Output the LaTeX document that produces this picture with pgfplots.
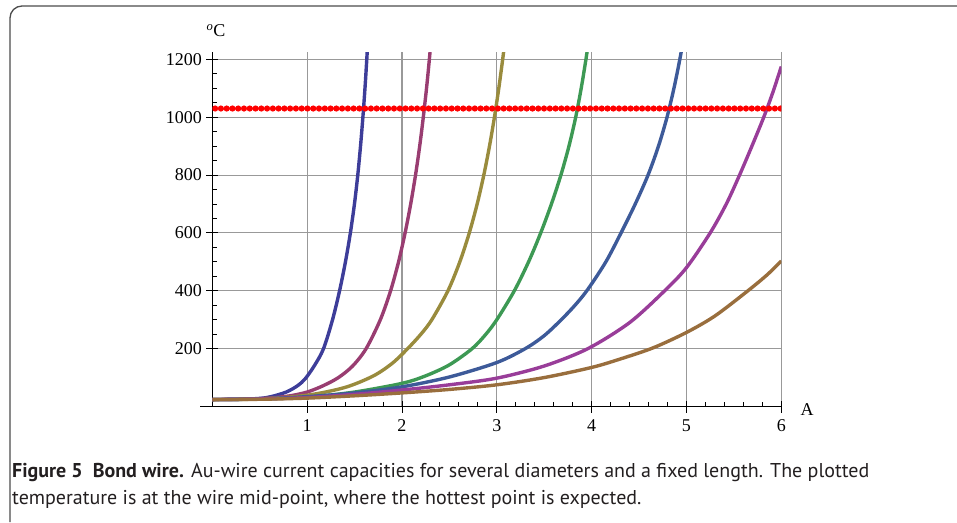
\documentclass[border=0pt]{standalone}
\usepackage{pgfplots}
\pgfplotsset{compat=1.18}
\usepackage{fontspec}
\setmainfont{Liberation Serif}
\newfontfamily\capfont{PT Sans}
% Mathematica default plot colours
\definecolor{mA}{rgb}{0.24,0.24,0.6}
\definecolor{mB}{rgb}{0.6,0.24,0.442}
\definecolor{mC}{rgb}{0.6,0.547,0.24}
\definecolor{mD}{rgb}{0.24,0.6,0.33}
\definecolor{mE}{rgb}{0.24,0.353,0.6}
\definecolor{mF}{rgb}{0.6,0.24,0.6}
\definecolor{mG}{rgb}{0.6,0.431,0.24}
\definecolor{capgrey}{HTML}{231F20}

\begin{document}
\begin{tikzpicture}
\begin{axis}[
  name=ax,
  scale only axis,width=569pt,height=354.4pt,
  xmin=0,xmax=6,ymin=0,ymax=1225,
  axis lines=left,axis line style={-,line width=1.1pt,black},
  font=\fontsize{18}{20}\selectfont,
  /pgf/number format/assume math mode=true,
  /pgf/number format/1000 sep={},
  xtick={1,2,3,4,5,6},ytick={200,400,600,800,1000,1200},
  minor x tick num=4,minor y tick num=3,
  tick align=center,major tick length=12pt,minor tick length=5pt,
  tick style={black,line width=0.9pt},
  minor x tick style={yshift=2.5pt},minor y tick style={xshift=2.5pt},
  grid=major,grid style={black!40,line width=1.1pt},
  yticklabel style={xshift=-1pt},xticklabel style={yshift=-4pt},
  clip=true,
  every axis plot/.append style={line width=3.4pt,smooth},
]
\addplot[mA] coordinates {
 (0,24) (0.3,25) (0.5,28) (0.62,34) (0.78,50) (0.9,72) (0.98,96) (1.08,143)
 (1.173,200) (1.268,300) (1.342,400) (1.404,500) (1.456,600) (1.499,700)
 (1.534,800) (1.563,900) (1.588,1000) (1.610,1100) (1.629,1200) (1.646,1300)};
\addplot[mB] coordinates {
 (0,24) (0.5,27) (0.8,36) (1.0,50) (1.17,72) (1.33,100) (1.48,140) (1.622,200)
 (1.772,300) (1.880,400) (1.964,500) (2.033,600) (2.092,700) (2.143,800)
 (2.187,900) (2.225,1000) (2.259,1100) (2.289,1200) (2.316,1300)};
\addplot[mC] coordinates {
 (0,24) (0.5,26) (1.0,39) (1.4,66) (1.7,106) (1.9,150) (2.06,200) (2.2,250)
 (2.315,300) (2.485,400) (2.61,500) (2.71,600) (2.793,700) (2.863,800)
 (2.923,900) (2.975,1000) (3.021,1100) (3.062,1200) (3.10,1300)};
\addplot[mD] coordinates {
 (0,24) (0.5,26) (1.0,32) (1.5,50) (2.0,80) (2.25,106) (2.5,144) (2.74,200)
 (2.88,248) (3.0,300) (3.185,400) (3.335,500) (3.463,600) (3.576,700)
 (3.676,800) (3.761,900) (3.832,1000) (3.89,1100) (3.94,1200) (3.985,1300)};
\addplot[mE] coordinates {
 (0,24) (0.5,26) (1.0,34) (1.5,47) (2.0,68) (2.5,102) (3.0,152) (3.3,200)
 (3.5,245) (3.68,300) (3.83,352) (3.96,405) (4.15,500) (4.31,600) (4.46,700)
 (4.595,800) (4.705,900) (4.795,1000) (4.868,1100) (4.93,1200) (4.985,1300)};
\addplot[mF] coordinates {
 (0,24) (0.5,26) (1.0,31) (1.5,42) (2.0,57) (2.5,75) (3.0,98) (3.5,140)
 (3.96,200) (4.4,290) (4.77,400) (5.0,480) (5.25,600) (5.42,700) (5.56,800)
 (5.69,900) (5.815,1000) (5.91,1085) (6.0,1175)};
\addplot[mG] coordinates {
 (0,24) (0.5,25) (1.0,29) (1.5,37) (2.0,47) (2.5,59) (3.0,75) (3.5,100)
 (4.0,135) (4.3,164) (4.65,203) (5.0,256) (5.3,313) (5.64,398) (5.85,455) (6.0,503)};
% melting limit, drawn as a row of dots
\addplot[red,line width=6.2pt,line cap=round,sharp plot,dash pattern=on 0pt off 5.77pt] coordinates {
 (0.03,1030) (6,1030)};
\end{axis}

% everything else is placed relative to the axis origin (1pt = 1px)
\begin{scope}[shift={(ax.south west)},x=1pt,y=1pt]
% short stub of the x axis left of the origin
\draw[line width=1.1pt] (-12.3,0) -- (0,0);
% axis names
\node[font=\fontsize{18}{20}\selectfont,anchor=base] at (3.7,369.5) {\textsuperscript{\itshape o}C};
\node[font=\fontsize{18}{20}\selectfont,anchor=base west] at (584.7,-8.5) {A};
% caption
\node[anchor=base west,inner sep=0pt,align=left,text=capgrey,
  font=\capfont\fontsize{20}{26.5}\selectfont] at (-200.3,-97.5)
  {\textbf{Figure 5\enspace Bond wire.} Au-wire current capacities for several diameters and a fixed length. The plotted\\
   temperature is at the wire mid-point, where the hottest point is expected.};
% figure frame (clipped at right and bottom)
\draw[line width=1.3pt,black!70] (-202.3,-115.5) -- (-202.3,388.5)
  arc[start angle=180,end angle=90,radius=12] -- (744.7,400.5);
\pgfresetboundingbox
\path[use as bounding box] (-212.3,-115.5) rectangle (744.7,406.5);
\end{scope}
\end{tikzpicture}
\end{document}
